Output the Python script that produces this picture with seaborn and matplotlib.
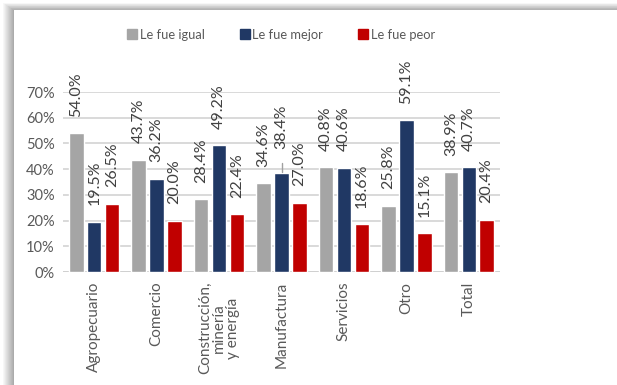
import numpy as np
import pandas as pd
import seaborn as sns
import matplotlib.pyplot as plt
from matplotlib.patches import Rectangle
from matplotlib.lines import Line2D

# data
categories = ["Agropecuario", "Comercio", "Construcción,\nminería\ny energía",
              "Manufactura", "Servicios", "Otro", "Total"]
series = ["Le fue igual", "Le fue mejor", "Le fue peor"]
igual = [54.0, 43.7, 28.4, 34.6, 40.8, 25.8, 38.9]
mejor = [19.5, 36.2, 49.2, 38.4, 40.6, 59.1, 40.7]
peor = [26.5, 20.0, 22.4, 27.0, 18.6, 15.1, 20.4]
yticks = [0, 10, 20, 30, 40, 50, 60, 70]

colors = ["#A5A5A5", "#203864", "#C00000"]

df = pd.DataFrame({
    "cat": categories * 3,
    "serie": np.repeat(series, len(categories)),
    "val": igual + mejor + peor,
})

sns.set_style("white")
plt.rcParams["font.family"] = ["Lato", "DejaVu Sans"]

W, H = 617, 385
fig = plt.figure(figsize=(W / 100, H / 100), dpi=100)
fig.patch.set_facecolor("white")

# drop shadow + white panel (chart area frame)
for i in range(11):
    g = 0.97 - i * 0.03
    fig.add_artist(Rectangle(((3 + i) / W, 0), 1, 1 - (3 + i * 0.65) / H,
                             transform=fig.transFigure, color=(g, g, g), lw=0, zorder=-10 + i * 0.01))
fig.add_artist(Rectangle((14 / W, 0), 1, 1 - 10 / H, transform=fig.transFigure,
                         color="white", lw=0, zorder=-9))

ax = fig.add_axes([63 / W, 1 - 272 / H, (500 - 63) / W, (272 - 92) / H])
ax.set_facecolor("none")

sns.barplot(data=df, x="cat", y="val", hue="serie", hue_order=series, order=categories,
            palette=colors, width=0.86, gap=0.19, saturation=1, legend=False, ax=ax, zorder=3)

ax.set_ylim(0, 70)
ax.set_xlim(-0.5, 6.5)
ax.set_yticks(yticks)
ax.set_yticklabels([f"{t}%" for t in yticks])
ax.yaxis.grid(True, color="#D9D9D9", lw=1.4, zorder=0)
ax.set_axisbelow(True)
for s in ["top", "right", "left", "bottom"]:
    ax.spines[s].set_visible(False)
ax.axhline(0, color="#D0D0D0", lw=1.4, zorder=1)
ax.set_xlabel("")
ax.set_ylabel("")
ax.tick_params(axis="both", length=0, colors="#595959", labelsize=10.5)
ax.tick_params(axis="y", pad=6)
ax.tick_params(axis="x", pad=7, labelsize=11)
ax.set_xticks(range(len(categories)))
ax.set_xticklabels(categories, rotation=90, va="top", ha="center", multialignment="center",
                   linespacing=1.0)

# rotated value labels above each bar
for k, cont in enumerate(ax.containers):
    for j, bar in enumerate(cont):
        v = bar.get_height()
        x = bar.get_x() + bar.get_width() / 2
        extra = 0
        if series[k] == "Le fue mejor" and categories[j] == "Manufactura":
            extra = 3.0
            ax.plot([x, x], [v + 0.3, v + 4.0], color="#A0A0A0", lw=1, clip_on=False, zorder=4)
        ax.text(x, v + 6.4 + extra, f"{v:.1f}%", rotation=90, ha="center", va="bottom",
                fontsize=11.5, color="#404040", clip_on=False)

handles = [Line2D([], [], marker="s", ls="", color=c, markersize=6.5) for c in colors]
fig.legend(handles, series, loc="center", bbox_to_anchor=(281 / W, 1 - 35 / H), ncol=3,
           frameon=False, fontsize=9.3, handletextpad=0.2, columnspacing=2.7,
           labelcolor="#595959", handlelength=0.8)

fig.savefig("out.png", dpi=100)
